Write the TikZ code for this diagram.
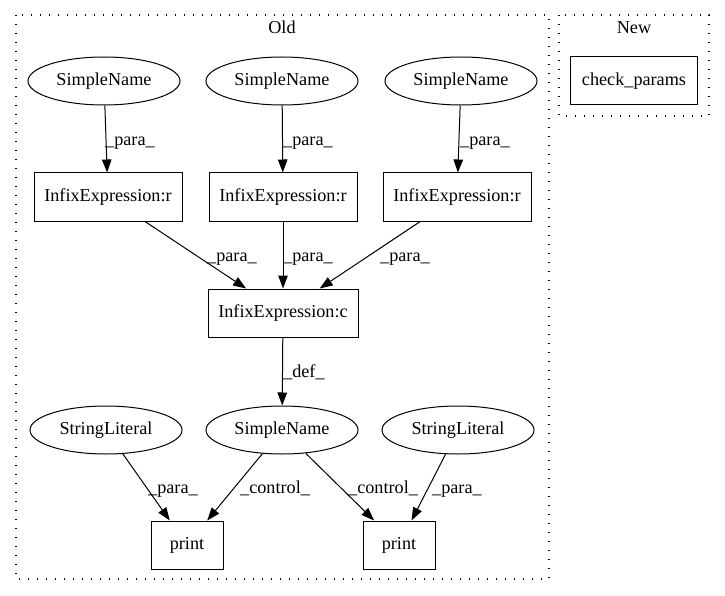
\documentclass[tikz,border=0pt]{standalone}
\usepackage{fontspec}
\setmainfont{Liberation Serif}
\usetikzlibrary{arrows.meta}
\usetikzlibrary{shapes.geometric}
\tikzset{
ast leaf/.style = { ellipse, draw = black, line width = 1pt, minimum width = 152pt, minimum height = 48pt, inner sep = 0pt },
ast op/.style = { rectangle, draw = black, line width = 1pt, minimum height = 48pt, inner sep = 0pt },
flow/.style = { -{Triangle[length = 13pt, width = 9.5pt]}, line width = 1pt },
flow label/.style = { anchor = base west, inner sep = 0pt },
cluster/.style = { draw = black, line width = 1.3pt, dash pattern = on 1.3pt off 7.7pt },
}

\begin{document}
\begin{tikzpicture}[x = 1pt, y = -1pt, font = \fontsize{18.2}{22}\selectfont]
    \useasboundingbox (0, 0) rectangle (725, 596);
    % clusters
    \draw[cluster] (16, 15) rectangle (549, 579);
    \draw[cluster] (559, 15) rectangle (709, 116);
    \node[anchor = base] (old) at (282, 34) {Old};
    \node[anchor = base] (new) at (634, 34) {New};
    \node[ast op, minimum width = 127pt] (check) at (634, 81) {check\_params};
    % Old graph
    \node[ast leaf] (name a) at (104, 81) {SimpleName};
    \node[ast leaf] (name b) at (282, 81) {SimpleName};
    \node[ast leaf] (name c) at (461, 81) {SimpleName};
    \node[ast op, minimum width = 148pt] (infix a) at (108, 197) {InfixExpression:r};
    \node[ast op, minimum width = 148pt] (infix b) at (283, 197) {InfixExpression:r};
    \node[ast op, minimum width = 148pt] (infix c) at (457, 197) {InfixExpression:r};
    \node[ast op, minimum width = 150pt] (concat) at (283, 313) {InfixExpression:c};
    \node[ast leaf] (string a) at (106, 430) {StringLiteral};
    \node[ast leaf] (name d) at (282, 430) {SimpleName};
    \node[ast leaf] (string b) at (458, 430) {StringLiteral};
    \node[ast op, minimum width = 72pt] (print a) at (187, 545) {print};
    \node[ast op, minimum width = 72pt] (print b) at (399, 545) {print};
    \draw[flow] (name a) -- (infix a);
    \draw[flow] (name b) -- (infix b);
    \draw[flow] (name c) -- (infix c);
    \draw[flow] (infix a) -- (concat);
    \draw[flow] (infix b) -- (concat);
    \draw[flow] (infix c) -- (concat);
    \draw[flow] (concat) -- (name d);
    \draw[flow] (string a) -- (print a);
    \draw[flow] (name d) -- (print a);
    \draw[flow] (name d) -- (print b);
    \draw[flow] (string b) -- (print b);
    \node[flow label] (para a) at (105, 146) {\_para\_};
    \node[flow label] (para b) at (283, 146) {\_para\_};
    \node[flow label] (para c) at (460, 146) {\_para\_};
    \node[flow label] (para d) at (207, 261) {\_para\_};
    \node[flow label] (para e) at (283, 261) {\_para\_};
    \node[flow label] (para f) at (380, 261) {\_para\_};
    \node[flow label] (def) at (283, 377) {\_def\_};
    \node[flow label] (para g) at (148, 493) {\_para\_};
    \node[flow label] (control a) at (240, 493) {\_control\_};
    \node[flow label] (control b) at (348, 493) {\_control\_};
    \node[flow label] (para h) at (432, 493) {\_para\_};
\end{tikzpicture}
\end{document}
